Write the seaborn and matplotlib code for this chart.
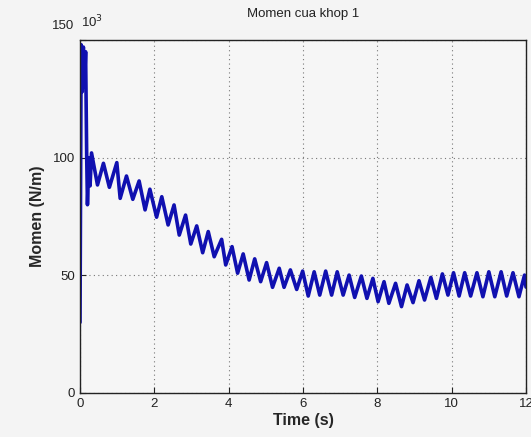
import matplotlib
matplotlib.use("Agg")
import matplotlib.pyplot as plt
import pandas as pd
import seaborn as sns

# Extreme points (peaks/troughs), values in 10^3 N/m
time_s = [0.00, 0.03, 0.06, 0.09, 0.12, 0.15, 0.18, 0.20, 0.24, 0.27,
          0.31, 0.47, 0.63, 0.79, 0.99, 1.08, 1.25, 1.42, 1.59, 1.75,
          1.88, 2.06, 2.20, 2.37, 2.53, 2.67, 2.84, 2.98, 3.14, 3.30,
          3.45, 3.61, 3.81, 3.92, 4.09, 4.24, 4.39, 4.55, 4.70, 4.86,
          5.02, 5.18, 5.36, 5.49, 5.66, 5.83, 5.99, 6.14, 6.30, 6.45,
          6.61, 6.77, 6.92, 7.08, 7.24, 7.39, 7.57, 7.72, 7.88, 8.02,
          8.18, 8.31, 8.49, 8.65, 8.80, 8.96, 9.12, 9.27, 9.44, 9.59,
          9.75, 9.90, 10.05, 10.20, 10.35, 10.51, 10.68, 10.84, 11.00, 11.16,
          11.33, 11.48, 11.65, 11.81, 11.96, 12.00]
momen = [30, 148, 128, 147, 130, 145, 100, 80, 100, 88,
         102, 88.4, 97.6, 87.4, 97.9, 82.7, 92.2, 82.3, 90.1, 77.8,
         86.6, 74.7, 83.4, 71.4, 79.9, 67.1, 75.6, 63.3, 71.0, 59.6,
         68.6, 57.9, 65.3, 54.4, 62.2, 50.9, 59.1, 48.0, 57.0, 47.3,
         55.4, 44.9, 53.0, 44.9, 52.3, 44.0, 51.8, 41.2, 51.5, 41.6,
         51.8, 41.6, 51.5, 41.6, 50.1, 40.6, 49.7, 40.2, 48.7, 38.8,
         47.3, 38.1, 46.6, 36.7, 45.9, 38.4, 47.7, 39.5, 49.1, 40.2,
         50.6, 41.6, 51.1, 41.2, 51.1, 41.2, 51.1, 40.9, 51.5, 40.9,
         51.5, 41.2, 51.1, 40.9, 50.1, 45.0]

x_ticks = [0, 2, 4, 6, 8, 10, 12]
y_ticks = [0, 50, 100, 150]

df = pd.DataFrame({"t": time_s, "m": momen})

sns.set_style("ticks")
plt.rcParams["font.family"] = ["Liberation Sans", "DejaVu Sans"]

fig = plt.figure(figsize=(5.31, 4.37), dpi=100, facecolor="#f4f4f4")
ax = fig.add_axes([0.1507, 0.1007, 0.8399, 0.8078])
ax.set_facecolor("#f6f6f6")

sns.lineplot(data=df, x="t", y="m", estimator=None, color="#1010b0",
             linewidth=2.6, ax=ax)
ax.lines[0].set_solid_joinstyle("round")

ax.set_xlim(0, 12)
ax.set_ylim(0, 150)
ax.set_xticks(x_ticks)
ax.set_yticks(y_ticks)
ax.set_xticklabels([str(v) for v in x_ticks])
ax.set_yticklabels([str(v) for v in y_ticks[:-1]] + [""])
ax.tick_params(direction="in", length=4, labelsize=9.5, color="#222222",
               labelcolor="#222222", top=False, right=False)
ax.grid(True, color="#777777", linestyle=(0, (1, 3)), linewidth=0.8)
for s in ax.spines.values():
    s.set_color("#222222")
    s.set_linewidth(1.0)
    s.set_visible(True)

fig.text(0.571, 1 - 14 / 437, "Momen cua khop 1", ha="center", va="center",
         fontsize=9.5, color="#222222")
ax.set_xlabel("Time (s)", fontsize=11.5, fontweight="bold", labelpad=2)
ax.set_ylabel("Momen (N/m)", fontsize=11.5, fontweight="bold", labelpad=6)

# 150 label and the 10^3 multiplier sit above the axes like in the original
ax.text(-0.012, 1.04, "150", transform=ax.transAxes, ha="right",
        va="center", fontsize=9.5, color="#222222")
ax.text(0.002, 1.05, r"10$^3$", transform=ax.transAxes, ha="left",
        va="center", fontsize=9.5, color="#222222")

fig.savefig("out.png", dpi=100, facecolor=fig.get_facecolor())
